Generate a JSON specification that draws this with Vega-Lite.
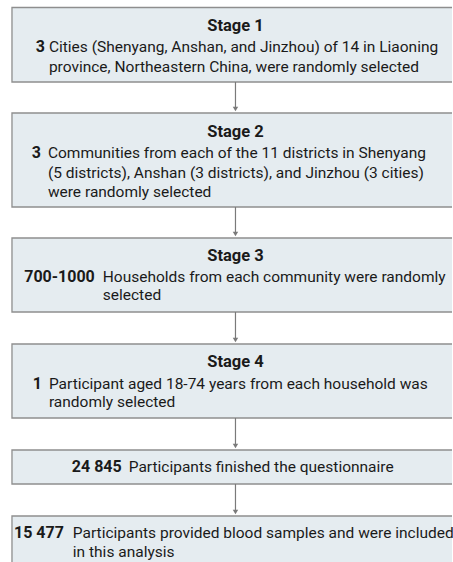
{
  "$schema": "https://vega.github.io/schema/vega-lite/v6.json",
  "width": 453,
  "height": 562,
  "padding": 0,
  "autosize": {"type": "fit", "contains": "padding"},
  "background": "white",
  "config": {"view": {"stroke": null}, "text": {"font": "Roboto", "fontSize": 15.5, "color": "#1a1a1a"}},
  "datasets": {
    "boxes": [
      {"box": "Stage 1", "x1": 12, "x2": 462, "y1": 7.5, "y2": 82},
      {"box": "Stage 2", "x1": 12, "x2": 462, "y1": 113, "y2": 207},
      {"box": "Stage 3", "x1": 12, "x2": 462, "y1": 238, "y2": 312},
      {"box": "Stage 4", "x1": 12, "x2": 462, "y1": 344, "y2": 418},
      {"box": "Finished", "x1": 12, "x2": 462, "y1": 450, "y2": 484},
      {"box": "Included", "x1": 12, "x2": 462, "y1": 516, "y2": 580}
    ],
    "arrows": [
      {"x": 236, "y1": 82, "y2": 107, "tip": 109},
      {"x": 236, "y1": 207, "y2": 232, "tip": 234},
      {"x": 236, "y1": 312, "y2": 338, "tip": 340},
      {"x": 236, "y1": 418, "y2": 444, "tip": 446},
      {"x": 236, "y1": 484, "y2": 510, "tip": 512}
    ],
    "headings": [
      {"x": 236, "y": 26, "text": "Stage 1"},
      {"x": 236, "y": 132, "text": "Stage 2"},
      {"x": 236, "y": 256, "text": "Stage 3"},
      {"x": 236, "y": 362, "text": "Stage 4"}
    ],
    "numbers": [
      {"x": 45, "y": 47, "text": "3"},
      {"x": 41, "y": 153, "text": "3"},
      {"x": 95, "y": 277, "text": "700-1000"},
      {"x": 42, "y": 384, "text": "1"},
      {"x": 122, "y": 467, "text": "24 845"},
      {"x": 64, "y": 533, "text": "15 477"}
    ],
    "body": [
      {"x": 49, "y": 47, "text": "Cities (Shenyang, Anshan, and Jinzhou) of 14 in Liaoning"},
      {"x": 49, "y": 67, "text": "province, Northeastern China, were randomly selected"},
      {"x": 48, "y": 153, "text": "Communities from each of the 11 districts in Shenyang"},
      {"x": 48, "y": 173, "text": "(5 districts), Anshan (3 districts), and Jinzhou (3 cities)"},
      {"x": 48, "y": 192, "text": "were randomly selected"},
      {"x": 103, "y": 277, "text": "Households from each community were randomly"},
      {"x": 103, "y": 295, "text": "selected"},
      {"x": 49, "y": 384, "text": "Participant aged 18-74 years from each household was"},
      {"x": 49, "y": 402, "text": "randomly selected"},
      {"x": 129, "y": 467, "text": "Participants finished the questionnaire"},
      {"x": 73, "y": 533, "text": "Participants provided blood samples and were included"},
      {"x": 73, "y": 552, "text": "in this analysis"}
    ]
  },
  "layer": [
    {
      "data": {"name": "boxes"},
      "mark": {"type": "rect", "fill": "#e5ecf0", "stroke": "#8e8e8e", "strokeWidth": 1.3, "clip": true},
      "encoding": {
        "x": {"field": "x1", "type": "quantitative", "scale": {"domain": [0, 453], "nice": false, "zero": false}, "axis": null},
        "x2": {"field": "x2"},
        "y": {"field": "y1", "type": "quantitative", "scale": {"domain": [0, 562], "nice": false, "zero": false, "reverse": true}, "axis": null},
        "y2": {"field": "y2"}
      }
    },
    {
      "data": {"name": "arrows"},
      "mark": {"type": "rule", "color": "#7a7a7a", "strokeWidth": 1.2},
      "encoding": {
        "x": {"field": "x", "type": "quantitative", "axis": null},
        "y": {"field": "y1", "type": "quantitative", "axis": null},
        "y2": {"field": "y2"}
      }
    },
    {
      "data": {"name": "arrows"},
      "mark": {"type": "point", "shape": "triangle-down", "filled": true, "color": "#7a7a7a", "size": 30, "opacity": 1},
      "encoding": {
        "x": {"field": "x", "type": "quantitative", "axis": null},
        "y": {"field": "tip", "type": "quantitative", "axis": null}
      }
    },
    {
      "data": {"name": "headings"},
      "mark": {"type": "text", "fontWeight": "bold", "fontSize": 16.5, "align": "center", "baseline": "middle"},
      "encoding": {
        "x": {"field": "x", "type": "quantitative", "axis": null},
        "y": {"field": "y", "type": "quantitative", "axis": null},
        "text": {"field": "text"}
      }
    },
    {
      "data": {"name": "numbers"},
      "mark": {"type": "text", "fontWeight": "bold", "fontSize": 16, "align": "right", "baseline": "middle"},
      "encoding": {
        "x": {"field": "x", "type": "quantitative", "axis": null},
        "y": {"field": "y", "type": "quantitative", "axis": null},
        "text": {"field": "text"}
      }
    },
    {
      "data": {"name": "body"},
      "mark": {"type": "text", "align": "left", "baseline": "middle"},
      "encoding": {
        "x": {"field": "x", "type": "quantitative", "axis": null},
        "y": {"field": "y", "type": "quantitative", "axis": null},
        "text": {"field": "text"}
      }
    }
  ]
}
